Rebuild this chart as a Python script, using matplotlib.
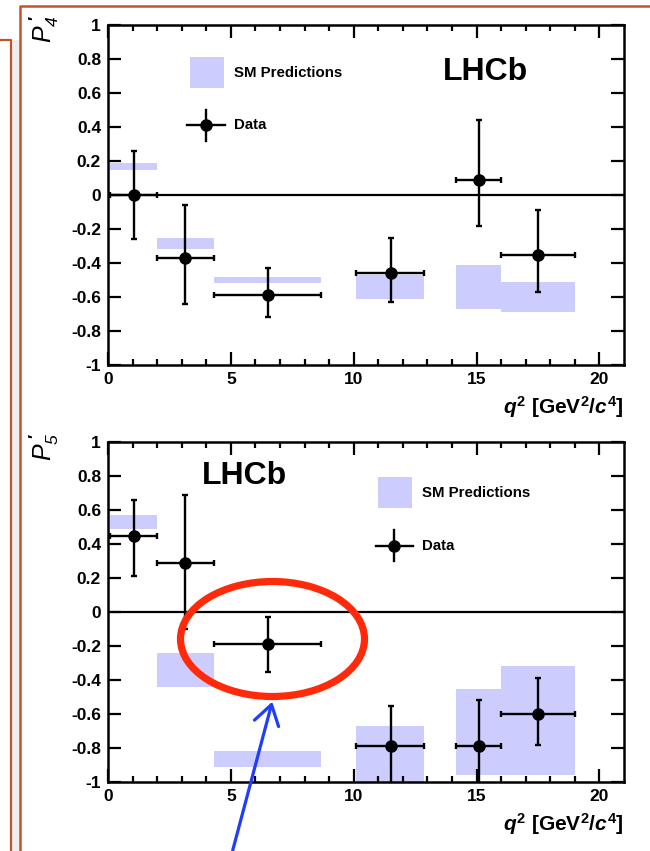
import numpy as np
import matplotlib.pyplot as plt
from matplotlib.patches import Rectangle, Ellipse, FancyArrowPatch
from matplotlib.lines import Line2D

plt.rcParams['font.family'] = ['Liberation Sans', 'DejaVu Sans']
plt.rcParams['font.weight'] = 'bold'
plt.rcParams['axes.unicode_minus'] = False
plt.rcParams['mathtext.fontset'] = 'custom'
plt.rcParams['mathtext.rm'] = 'Liberation Sans:bold'
plt.rcParams['mathtext.it'] = 'Liberation Sans:italic:bold'
plt.rcParams['mathtext.bf'] = 'Liberation Sans:bold'
plt.rcParams['mathtext.sf'] = 'Liberation Sans:style=italic:weight=normal'

# q2 bins [GeV^2/c^4]
q2_lo = [0.1, 2.0, 4.3, 10.09, 14.18, 16.0]
q2_hi = [2.0, 4.3, 8.68, 12.86, 16.0, 19.0]
q2_mid = [1.05, 3.15, 6.5, 11.5, 15.1, 17.5]

# P4'
p4_val = [0.00, -0.37, -0.59, -0.46, 0.09, -0.35]
p4_up = [0.26, 0.31, 0.16, 0.21, 0.35, 0.26]
p4_dn = [0.26, 0.27, 0.13, 0.17, 0.27, 0.22]
p4_sm_lo = [0.15, -0.32, -0.52, -0.61, -0.67, -0.69]
p4_sm_hi = [0.19, -0.25, -0.48, -0.47, -0.41, -0.51]

# P5'
p5_val = [0.45, 0.29, -0.19, -0.79, -0.79, -0.60]
p5_up = [0.21, 0.40, 0.16, 0.24, 0.27, 0.21]
p5_dn = [0.24, 0.39, 0.16, 0.27, 0.22, 0.18]
p5_sm_lo = [0.49, -0.44, -0.91, -1.05, -0.96, -0.96]
p5_sm_hi = [0.57, -0.24, -0.82, -0.67, -0.45, -0.32]

yticks = [-1, -0.8, -0.6, -0.4, -0.2, 0, 0.2, 0.4, 0.6, 0.8, 1]
ytick_labels = ['-1', '-0.8', '-0.6', '-0.4', '-0.2', '0', '0.2', '0.4', '0.6', '0.8', '1']
xticks = [0, 5, 10, 15, 20]

sm_color = '#ccccff'
frame_color = '#c0552c'

W, H = 650, 851
fig = plt.figure(figsize=(W / 100, H / 100), dpi=100)


def fx(px):
    return px / W


def fy(py):
    return 1 - py / H


def panel(top_px, val, up, dn, sm_lo, sm_hi, leg, lhcb, ylab):
    ax = fig.add_axes([fx(108), fy(top_px + 340), 516 / W, 340 / H])
    for lo, hi, a, b in zip(q2_lo, q2_hi, sm_lo, sm_hi):
        ax.add_patch(Rectangle((lo, a), hi - lo, b - a, facecolor=sm_color,
                               edgecolor='none', zorder=1))
    ax.axhline(0, color='black', lw=1.6, zorder=2)
    xerr = [np.subtract(q2_mid, q2_lo), np.subtract(q2_hi, q2_mid)]
    ax.errorbar(q2_mid, val, yerr=[dn, up], xerr=xerr, fmt='o', color='black',
                ms=8, elinewidth=1.7, capsize=2, capthick=1.7, zorder=3)

    ax.set_xlim(0, 21)
    ax.set_ylim(-1, 1)
    ax.set_yticks(yticks)
    ax.set_yticklabels(ytick_labels)
    ax.set_xticks(xticks)
    ax.set_xticks(np.arange(0, 21), minor=True)
    ax.tick_params(which='both', direction='in', top=True, right=True,
                   labelsize=12.5, width=1.6, pad=5)
    ax.tick_params(which='major', length=9.5)
    ax.tick_params(which='minor', length=4.5)
    for s in ax.spines.values():
        s.set_linewidth(1.8)
    ax.set_xlabel(r'$q^{2}$ [GeV$^{2}$/$c^{4}$]', loc='right', fontsize=15,
                  fontweight='bold', labelpad=5)

    # legend
    x0, y0 = leg
    ax.add_patch(Rectangle((x0, y0 - 0.045), 0.066, 0.092, transform=ax.transAxes,
                           facecolor=sm_color, edgecolor='none'))
    ax.text(x0 + 0.086, y0, 'SM Predictions', transform=ax.transAxes,
            fontsize=10.8, va='center', ha='left')
    mx, my = x0 + 0.032, y0 - 0.155
    ax.add_line(Line2D([mx - 0.036, mx + 0.036], [my, my], transform=ax.transAxes,
                       color='black', lw=1.7))
    ax.add_line(Line2D([mx, mx], [my - 0.045, my + 0.045], transform=ax.transAxes,
                       color='black', lw=1.7))
    ax.add_line(Line2D([mx], [my], transform=ax.transAxes, marker='o', ms=8,
                       color='black'))
    ax.text(x0 + 0.086, my, 'Data', transform=ax.transAxes, fontsize=10.8,
            va='center', ha='left')
    ax.text(lhcb[0], lhcb[1], 'LHCb', transform=ax.transAxes, fontsize=23,
            ha='center', va='center')

    fig.text(fx(44), fy(top_px - 10), ylab, rotation=90, ha='center', va='top',
             fontsize=18, fontweight='normal')
    return ax


panel(25, p4_val, p4_up, p4_dn, p4_sm_lo, p4_sm_hi, (0.158, 0.86), (0.731, 0.862),
      r'$\mathsf{P}_{\mathsf{4}}^{\,\,\prime}$')
panel(442, p5_val, p5_up, p5_dn, p5_sm_lo, p5_sm_hi, (0.523, 0.85), (0.265, 0.9),
      r'$\mathsf{P}_{\mathsf{5}}^{\,\,\prime}$')

# slide frame decorations
fig.add_artist(Rectangle((fx(12), 0), fx(20) - fx(12), fy(40), transform=fig.transFigure,
                         facecolor='#eeeeee', edgecolor='none', zorder=-1))
fig.add_artist(Line2D([fx(0), fx(11), fx(11)], [fy(40), fy(40), fy(851)],
                      transform=fig.transFigure, color=frame_color, lw=1.6))
fig.add_artist(Line2D([fx(650), fx(20), fx(20)], [fy(6), fy(6), fy(851)],
                      transform=fig.transFigure, color=frame_color, lw=1.8))

# annotations
fig.add_artist(Ellipse((fx(272.5), fy(639)), 184 / W, 115 / H, transform=fig.transFigure,
                       facecolor='none', edgecolor='#ff2a0a', lw=5.2, zorder=10))
fig.add_artist(FancyArrowPatch((fx(232), fy(853)), (fx(273), fy(699)),
                               transform=fig.transFigure, color='#1f3cff', lw=2.3,
                               arrowstyle='->, head_length=0.7, head_width=0.45',
                               mutation_scale=20, zorder=10))

fig.savefig('out.png', dpi=100)
